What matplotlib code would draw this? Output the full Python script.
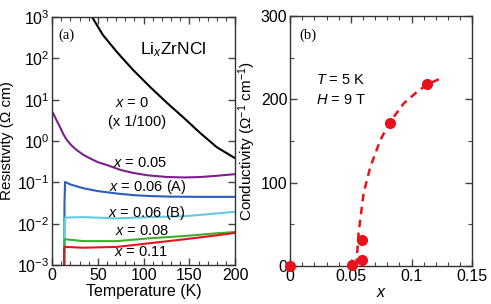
import numpy as np
import matplotlib
matplotlib.use("Agg")
import matplotlib.pyplot as plt
from matplotlib.ticker import MultipleLocator, LogLocator, NullLocator, FuncFormatter

plt.rcParams["font.family"] = ["Liberation Sans", "DejaVu Sans"]
plt.rcParams["mathtext.fontset"] = "custom"
plt.rcParams["mathtext.rm"] = "Liberation Sans"
plt.rcParams["mathtext.it"] = "Liberation Sans:italic"

# (a) resistivity vs temperature
T_x0 = [44.5, 55.7, 71, 88.5, 107, 125.7, 143, 162, 180, 198, 200]
rho_x0 = [10**2.97, 10**2.56, 10**2.15, 10**1.72, 10**1.31, 10**0.92,
          10**0.58, 10**0.19, 10**-0.15, 10**-0.39, 10**-0.41]

T_x005 = [1.0, 5, 8.7, 12, 16, 21, 27, 34, 41.5, 50, 60, 75, 88.5, 105, 126, 145, 162, 180, 200]
rho_x005 = [10**0.68, 10**0.50, 10**0.34, 10**0.18, 10**0.03, 10**-0.1, 10**-0.22, 10**-0.33,
            10**-0.42, 10**-0.51, 10**-0.58, 10**-0.70, 10**-0.77, 10**-0.83, 10**-0.87,
            10**-0.88, 10**-0.87, 10**-0.84, 10**-0.80]

T_x006a = [13.0, 13.6, 14.2, 20, 34, 50, 71, 90, 107, 130, 162, 200]
rho_x006a = [1e-4, 10**-1.5, 10**-0.99, 10**-1.05, 10**-1.14, 10**-1.21, 10**-1.27,
             10**-1.31, 10**-1.33, 10**-1.345, 10**-1.35, 10**-1.35]

T_x006b = [13.2, 13.8, 14.5, 34, 71, 107, 143, 165, 180, 200]
rho_x006b = [1e-4, 10**-1.95, 10**-1.85, 10**-1.84, 10**-1.87, 10**-1.84, 10**-1.82,
             10**-1.78, 10**-1.75, 10**-1.71]

T_x008 = [13.0, 13.5, 14.5, 34, 71, 107, 143, 180, 200]
rho_x008 = [1e-4, 10**-2.4, 10**-2.375, 10**-2.42, 10**-2.42, 10**-2.35, 10**-2.30, 10**-2.23, 10**-2.20]

T_x011 = [12.8, 13.3, 14.5, 34, 71, 107, 143, 180, 200]
rho_x011 = [1e-4, 10**-2.58, 10**-2.56, 10**-2.58, 10**-2.56, 10**-2.47, 10**-2.38, 10**-2.28, 10**-2.22]

# (b) conductivity at T = 5 K, H = 9 T
x_pts = [0.0, 0.051, 0.059, 0.059, 0.082, 0.113]
sigma_pts = [0, 1, 7, 31, 172, 218]
x_fit = [0.0544, 0.0563, 0.0604, 0.066, 0.0742, 0.0818, 0.0934, 0.1044, 0.113, 0.1236]
sigma_fit = [0, 39, 87, 119, 151, 172, 195, 209, 218, 225]

fig = plt.figure(figsize=(4.91, 3.04), dpi=100)
ax1 = fig.add_axes([0.106, 0.128, 0.373, 0.816])
ax2 = fig.add_axes([0.591, 0.125, 0.371, 0.822])

lw = 1.5
ax1.plot(T_x0, rho_x0, color="black", lw=lw)
ax1.plot(T_x005, rho_x005, color="#7d1f8c", lw=lw)
ax1.plot(T_x006a, rho_x006a, color="#2b5fba", lw=lw)
ax1.plot(T_x006b, rho_x006b, color="#62cbe0", lw=lw)
ax1.plot(T_x008, rho_x008, color="#3fae2e", lw=lw)
ax1.plot(T_x011, rho_x011, color="#e8121c", lw=lw)

ax1.set_yscale("log")
ax1.set_xlim(0, 200)
ax1.set_ylim(1e-3, 1e3)
ax1.xaxis.set_major_locator(MultipleLocator(50))
ax1.xaxis.set_minor_locator(MultipleLocator(10))
ax1.yaxis.set_major_locator(LogLocator(base=10, numticks=10))
ax1.yaxis.set_minor_locator(NullLocator())
ax1.set_xlabel("Temperature (K)", fontsize=11.5, labelpad=1)
ax1.set_ylabel("Resistivity (Ω cm)", fontsize=11, labelpad=2)

fs = 10.5
ax1.text(6.5, 10**2.56, "(a)", family="Liberation Serif", fontsize=10.5, va="center")
ax1.text(132, 10**2.2, r"Li$_x$ZrNCl", fontsize=12.5, ha="center", va="center")
ax1.text(87, 10**0.92, r"$x$ = 0", fontsize=fs, ha="center", va="center")
ax1.text(93, 10**0.46, "(x 1/100)", fontsize=fs, ha="center", va="center")
ax1.text(96, 10**-0.535, r"$x$ = 0.05", fontsize=fs, ha="center", va="center")
ax1.text(105, 10**-1.12, r"$x$ = 0.06 (A)", fontsize=fs, ha="center", va="center")
ax1.text(103.5, 10**-1.75, r"$x$ = 0.06 (B)", fontsize=fs, ha="center", va="center")
ax1.text(98, 10**-2.17, r"$x$ = 0.08", fontsize=fs, ha="center", va="center")
ax1.text(97, 10**-2.68, r"$x$ = 0.11", fontsize=fs, ha="center", va="center")

ax2.plot(x_fit, sigma_fit, color="#e8121c", lw=1.8, ls=(0, (3, 2.2)))
ax2.plot(x_pts, sigma_pts, "o", color="#e8121c", ms=7, clip_on=False, zorder=5)
ax2.set_xlim(0, 0.15)
ax2.set_ylim(0, 300)
ax2.xaxis.set_major_locator(MultipleLocator(0.05))
ax2.xaxis.set_minor_locator(MultipleLocator(0.01))
ax2.yaxis.set_major_locator(MultipleLocator(100))
ax2.yaxis.set_minor_locator(MultipleLocator(50))
ax2.xaxis.set_major_formatter(FuncFormatter(lambda v, p: "0" if abs(v) < 1e-9 else f"{v:g}"))
ax2.set_xlabel(r"$x$", fontsize=11.5, labelpad=1)
ax2.set_ylabel(r"Conductivity ($\Omega^{-1}$ cm$^{-1}$)", fontsize=11, labelpad=2)
ax2.text(0.0074, 277, "(b)", family="Liberation Serif", fontsize=10.5, va="center")
ax2.text(0.0212, 223, r"$T$ = 5 K", fontsize=fs, va="center")
ax2.text(0.0212, 199, r"$H$ = 9 T", fontsize=fs, va="center")

for ax in (ax1, ax2):
    ax.tick_params(which="both", direction="in", top=True, right=True,
                   labelsize=11.5, pad=2, color="#444444")
    ax.tick_params(which="major", length=5, width=1)
    ax.tick_params(which="minor", length=3, width=0.8)
    for s in ax.spines.values():
        s.set_color("#333333")
        s.set_linewidth(1.0)

fig.savefig("out.png", dpi=100)
